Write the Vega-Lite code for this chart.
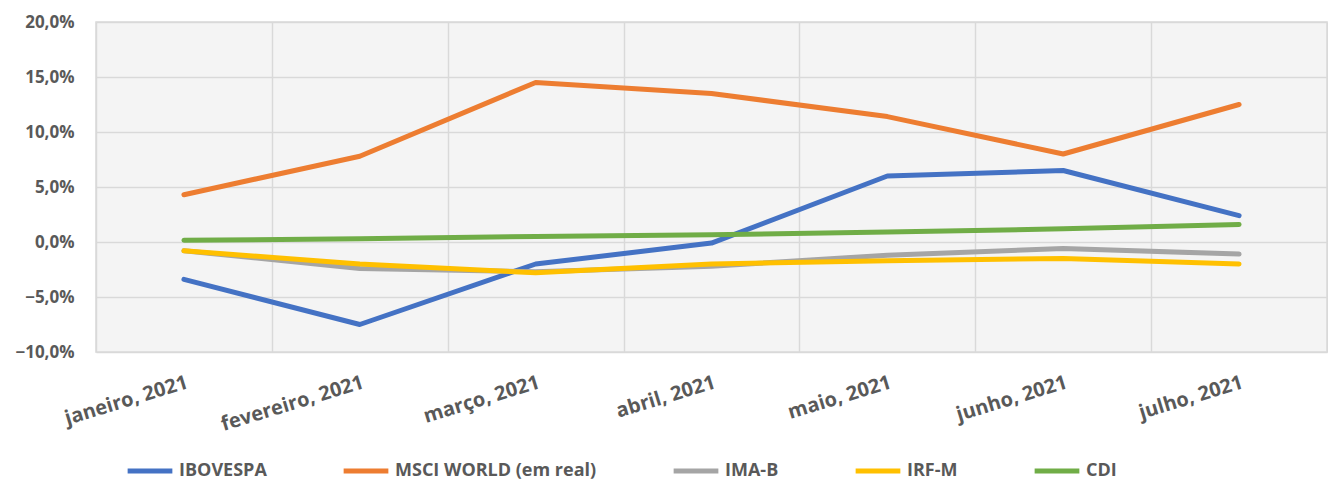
{
  "$schema": "https://vega.github.io/schema/vega-lite/v6.json",
  "autosize": {"type": "none"},
  "width": 1231,
  "height": 330,
  "padding": {"left": 96, "top": 22, "right": 1, "bottom": 136},
  "background": "white",
  "config": {
    "locale": {"number": {"decimal": ",", "thousands": ".", "grouping": [3], "currency": ["R$", ""]}},
    "view": {"fill": "#f4f4f4", "stroke": "#d9d9d9", "strokeWidth": 1.5},
    "font": "Open Sans",
    "axis": {"labelFont": "Open Sans", "labelFontWeight": "bold", "labelColor": "#595959", "labelFontSize": 18, "gridColor": "#d9d9d9", "gridWidth": 1.5}
  },
  "data": {
    "values": [
      {"mes": "janeiro, 2021", "serie": "IBOVESPA", "valor": -0.034},
      {"mes": "fevereiro, 2021", "serie": "IBOVESPA", "valor": -0.075},
      {"mes": "março, 2021", "serie": "IBOVESPA", "valor": -0.020},
      {"mes": "abril, 2021", "serie": "IBOVESPA", "valor": -0.001},
      {"mes": "maio, 2021", "serie": "IBOVESPA", "valor": 0.060},
      {"mes": "junho, 2021", "serie": "IBOVESPA", "valor": 0.065},
      {"mes": "julho, 2021", "serie": "IBOVESPA", "valor": 0.024},
      {"mes": "janeiro, 2021", "serie": "MSCI WORLD (em real)", "valor": 0.043},
      {"mes": "fevereiro, 2021", "serie": "MSCI WORLD (em real)", "valor": 0.078},
      {"mes": "março, 2021", "serie": "MSCI WORLD (em real)", "valor": 0.145},
      {"mes": "abril, 2021", "serie": "MSCI WORLD (em real)", "valor": 0.135},
      {"mes": "maio, 2021", "serie": "MSCI WORLD (em real)", "valor": 0.114},
      {"mes": "junho, 2021", "serie": "MSCI WORLD (em real)", "valor": 0.080},
      {"mes": "julho, 2021", "serie": "MSCI WORLD (em real)", "valor": 0.125},
      {"mes": "janeiro, 2021", "serie": "IMA-B", "valor": -0.008},
      {"mes": "fevereiro, 2021", "serie": "IMA-B", "valor": -0.024},
      {"mes": "março, 2021", "serie": "IMA-B", "valor": -0.027},
      {"mes": "abril, 2021", "serie": "IMA-B", "valor": -0.022},
      {"mes": "maio, 2021", "serie": "IMA-B", "valor": -0.012},
      {"mes": "junho, 2021", "serie": "IMA-B", "valor": -0.006},
      {"mes": "julho, 2021", "serie": "IMA-B", "valor": -0.011},
      {"mes": "janeiro, 2021", "serie": "IRF-M", "valor": -0.008},
      {"mes": "fevereiro, 2021", "serie": "IRF-M", "valor": -0.020},
      {"mes": "março, 2021", "serie": "IRF-M", "valor": -0.028},
      {"mes": "abril, 2021", "serie": "IRF-M", "valor": -0.020},
      {"mes": "maio, 2021", "serie": "IRF-M", "valor": -0.017},
      {"mes": "junho, 2021", "serie": "IRF-M", "valor": -0.015},
      {"mes": "julho, 2021", "serie": "IRF-M", "valor": -0.020},
      {"mes": "janeiro, 2021", "serie": "CDI", "valor": 0.0015},
      {"mes": "fevereiro, 2021", "serie": "CDI", "valor": 0.003},
      {"mes": "março, 2021", "serie": "CDI", "valor": 0.005},
      {"mes": "abril, 2021", "serie": "CDI", "valor": 0.0065},
      {"mes": "maio, 2021", "serie": "CDI", "valor": 0.009},
      {"mes": "junho, 2021", "serie": "CDI", "valor": 0.012},
      {"mes": "julho, 2021", "serie": "CDI", "valor": 0.016}
    ]
  },
  "mark": {"type": "line", "strokeWidth": 5, "strokeCap": "round", "strokeJoin": "round"},
  "encoding": {
    "x": {
      "field": "mes", "type": "ordinal", "bandPosition": 0.5,
      "sort": ["janeiro, 2021", "fevereiro, 2021", "março, 2021", "abril, 2021", "maio, 2021", "junho, 2021", "julho, 2021"],
      "scale": {"type": "band", "paddingInner": 0, "paddingOuter": 0},
      "axis": {"title": null, "domain": false, "ticks": false, "grid": true, "tickBand": "extent", "labelAngle": -17, "labelAlign": "right", "labelBaseline": "top", "labelPadding": 20, "labelLimit": 300, "labelFontSize": 20}
    },
    "y": {
      "field": "valor", "type": "quantitative",
      "scale": {"domain": [-0.1, 0.2], "nice": false, "zero": false},
      "axis": {"title": null, "format": ".1%", "values": [-0.1, -0.05, 0, 0.05, 0.1, 0.15, 0.2], "domain": false, "ticks": false, "labelPadding": 22, "labelFontSize": 17}
    },
    "color": {
      "field": "serie", "type": "nominal",
      "sort": ["IBOVESPA", "MSCI WORLD (em real)", "IMA-B", "IRF-M", "CDI"],
      "scale": {"domain": ["IBOVESPA", "MSCI WORLD (em real)", "IMA-B", "IRF-M", "CDI"], "range": ["#4472C4", "#ED7D31", "#A5A5A5", "#FFC000", "#70AD47"]},
      "legend": {"title": null, "orient": "none", "legendX": 29, "legendY": 424, "direction": "horizontal", "symbolType": "stroke", "symbolSize": 2000, "symbolStrokeWidth": 5, "labelFont": "Open Sans", "labelFontWeight": "bold", "labelFontSize": 18, "labelColor": "#595959", "columnPadding": 66, "labelOffset": 4, "labelLimit": 400}
    }
  }
}
